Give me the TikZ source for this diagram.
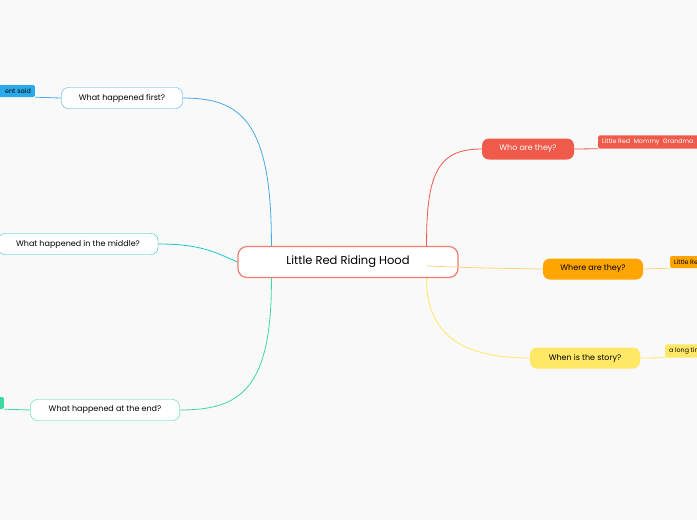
\documentclass[tikz,border=0pt]{standalone}
\usepackage{fontspec}
\setmainfont{Poppins}
\definecolor{bgc}{HTML}{F9F9F9}
\definecolor{redc}{HTML}{EF5A4A}
\definecolor{orac}{HTML}{FFA500}
\definecolor{yelc}{HTML}{FFE866}
\definecolor{bluc}{HTML}{4AAAE8}
\definecolor{blud}{HTML}{2AAAEA}
\definecolor{teac}{HTML}{1EC4CE}
\definecolor{grec}{HTML}{3DD9A0}
\tikzset{
  topic/.style={rounded corners=7pt,minimum height=21pt,font=\fontsize{8}{9}\selectfont,inner xsep=6pt},
  leaf/.style={rounded corners=1.5pt,minimum height=12pt,font=\fontsize{6.3}{7}\selectfont,inner xsep=4pt},
  link/.style={line width=0.8pt}
}
\begin{document}
\begin{tikzpicture}[x=1pt,y=-1pt]
  % Boundary
  \fill[bgc] (0,0) rectangle (697,520);
  \clip (0,0) rectangle (697,520);
  % Central topic
  \node[draw=redc!80,line width=1.2pt,fill=white,rounded corners=9pt,minimum width=220pt,minimum height=31pt,font=\fontsize{11.5}{13}\selectfont] (hood) at (348,262) {Little Red Riding Hood};
  % Right branches
  \node[topic,fill=redc,text=white,minimum width=92pt] (who) at (528,149) {Who are they?};
  \node[topic,fill=orac,minimum width=100pt] (where) at (593,269) {Where are they?};
  \node[topic,fill=yelc,minimum width=110pt] (when) at (585,358) {When is the story?};
  \node[leaf,fill=redc,text=white,anchor=west] (whoL) at (598,142) {Little Red\ \ Mommy\ \ Grandma\ \ Wolf};
  \node[leaf,fill=orac,anchor=west] (whereL) at (670,262) {Little Red's house};
  \node[leaf,fill=yelc,anchor=west] (whenL) at (665,351) {a long time ago};
  % Left branches
  \node[topic,draw=bluc,fill=white,minimum width=121pt] (first) at (122,98) {What happened first?};
  \node[topic,draw=teac,fill=white,minimum width=160pt] (middle) at (78,244) {What happened in the middle?};
  \node[topic,draw=grec,fill=white,minimum width=149pt] (end) at (105,410) {What happened at the end?};
  \node[leaf,fill=blud,anchor=east,text width=60pt,align=right] (firstL) at (35,91) {ent said};
  \node[leaf,fill=grec,anchor=east,minimum width=30pt] (endL) at (4,403) {};
  % Connectors
  \draw[link,redc] (hood.north east)+(-32,0) .. controls (426,170) and (440,149) .. (who.west);
  \draw[link,orac!50] (hood.east)+(-32,4) .. controls (480,268) .. (where.west);
  \draw[link,yelc] (hood.south east)+(-32,0) .. controls (426,340) and (470,358) .. (when.west);
  \draw[link,redc] (who.east) -- (whoL.south west);
  \draw[link,orac!50] (where.east) -- (whereL.south west);
  \draw[link,yelc] (when.east) -- (whenL.south west);
  \draw[link,bluc] (hood.north west)+(34,0) .. controls (272,120) and (240,98) .. (first.east);
  \draw[link,teac] (middle.east) .. controls (200,244) and (215,252) .. (hood.west);
  \draw[link,grec] (hood.south west)+(34,0) .. controls (272,390) and (240,410) .. (end.east);
  \draw[link,bluc] (first.west) -- (firstL.south east);
  \draw[link,grec] (end.west) -- (endL.south east);
\end{tikzpicture}
\end{document}
